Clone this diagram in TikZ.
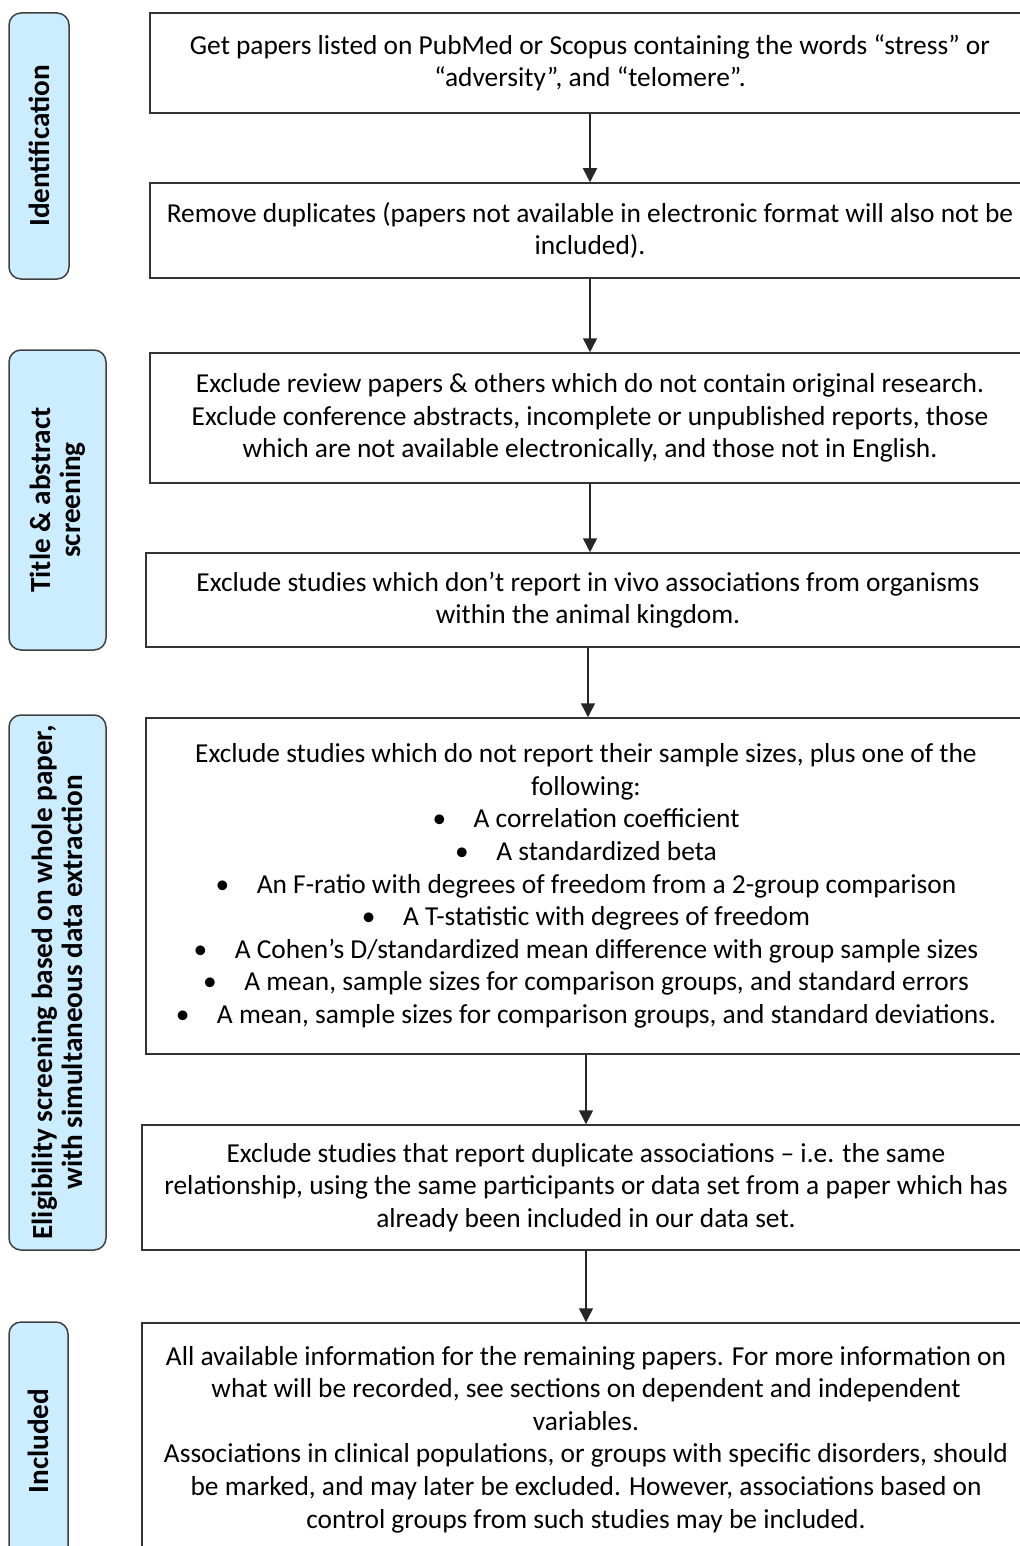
\documentclass[tikz,border=0pt]{standalone}
\usepackage{fontspec}
\setmainfont{Carlito}
\usepackage{tikz}
\usetikzlibrary{arrows.meta, positioning}

\begin{document}
\begin{tikzpicture}[x=.5pt, y=-.5pt,
    stage/.style={draw=black!80, line width=.75pt, align=center, inner sep=0pt,
      font=\fontsize{13.7}{16.3}\selectfont},
    phase/.style={draw=black!75, line width=.75pt, fill={rgb,255:red,204;green,236;blue,255},
      rounded corners=6pt, rotate=90, align=center, inner sep=0pt,
      font=\fontsize{14.6}{15.2}\selectfont\bfseries},
    arr/.style={-{Triangle[width=7pt, length=7pt]}, line width=.75pt, black!85}]
  \useasboundingbox (0,0) rectangle (1020,1546);
  \clip (0,0) rectangle (1020,1546);

  % phases down the left side
  \node[phase, minimum width=133pt, minimum height=30pt] (idf) at (39,146) {Identification};
  \node[phase, minimum width=150pt, minimum height=48.5pt] (tas) at (57.5,500)
    {Title \& abstract\\screening};
  \node[phase, minimum width=267.5pt, minimum height=48.5pt] (elg) at (57.5,982.5)
    {Eligibility screening based on whole paper,\\with simultaneous data extraction};
  \node[phase, minimum width=119pt, minimum height=29.5pt] (inc) at (38.5,1441) {Included};

  % the steps
  \node[stage, minimum width=440pt, minimum height=50pt] (b1) at (590,63)
    {Get papers listed on PubMed or Scopus containing the words “stress” or\\
     “adversity”, and “telomere”.};
  \node[stage, minimum width=440pt, minimum height=47.5pt] (b2) at (590,230.5)
    {Remove duplicates (papers not available in electronic format will also not be\\
     included).};
  \node[stage, minimum width=440pt, minimum height=65pt] (b3) at (590,418)
    {Exclude review papers \& others which do not contain original research.\\
     Exclude conference abstracts, incomplete or unpublished reports, those\\
     which are not available electronically, and those not in English.};
  \node[stage, minimum width=442pt, minimum height=47pt] (b4) at (588,600)
    {Exclude studies which don’t report in vivo associations from organisms\\
     within the animal kingdom.};
  \node[stage, minimum width=440pt, minimum height=168pt] (b5) at (586,886)
    {Exclude studies which do not report their sample sizes, plus one of the\\
     following:\\
     \textbullet\quad A correlation coefficient\\
     \textbullet\quad A standardized beta\\
     \textbullet\quad An F-ratio with degrees of freedom from a 2-group comparison\\
     \textbullet\quad A T-statistic with degrees of freedom\\
     \textbullet\quad A Cohen’s D/standardized mean difference with group sample sizes\\
     \textbullet\quad A mean, sample sizes for comparison groups, and standard errors\\
     \textbullet\quad A mean, sample sizes for comparison groups, and standard deviations.};
  \node[stage, minimum width=444pt, minimum height=62.5pt] (b6) at (586,1187.5)
    {Exclude studies that report duplicate associations – i.e. the same\\
     relationship, using the same participants or data set from a paper which has\\
     already been included in our data set.};
  \node[stage, minimum width=444pt, minimum height=116.5pt] (b7) at (586,1439.5)
    {All available information for the remaining papers. For more information on\\
     what will be recorded, see sections on dependent and independent\\
     variables.\\
     Associations in clinical populations, or groups with specific disorders, should\\
     be marked, and may later be excluded. However, associations based on\\
     control groups from such studies may be included.};

  \foreach \a/\b in {b1/b2, b2/b3, b3/b4, b4/b5, b5/b6, b6/b7}
    \draw[arr] (\a.south) -- (\a.south |- \b.north);
\end{tikzpicture}
\end{document}
